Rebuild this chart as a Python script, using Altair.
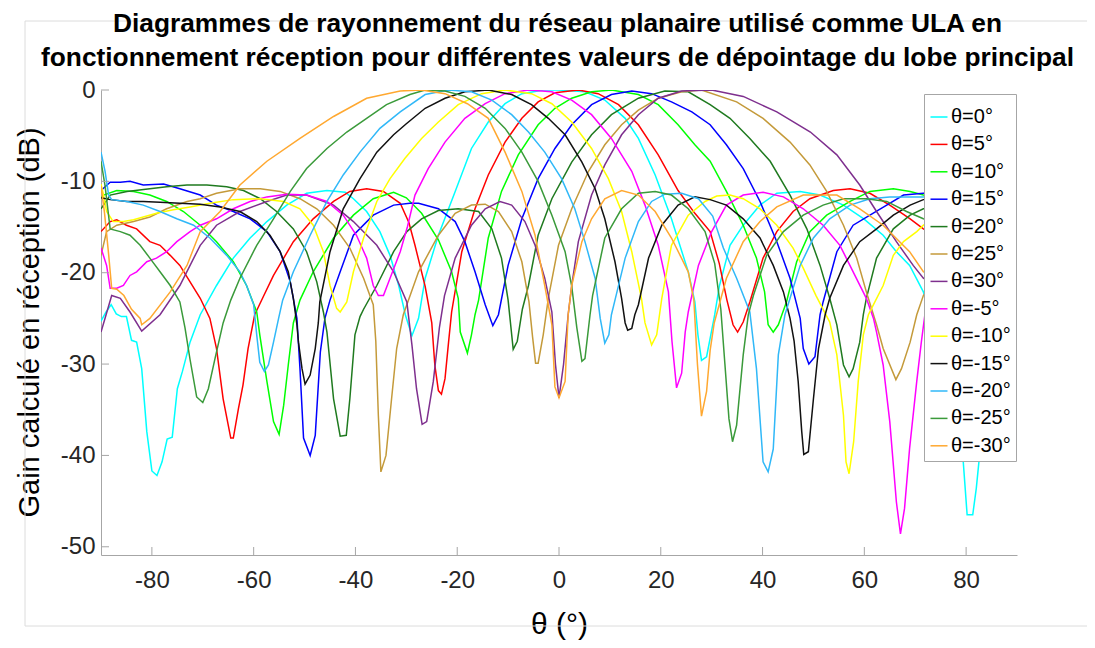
import altair as alt
import pandas as pd

title_lines = [
    "Diagrammes de rayonnement du réseau planaire utilisé comme ULA en",
    "fonctionnement réception pour différentes valeurs de dépointage du lobe principal",
]
x_title = "θ (°)"
y_title = "Gain calculé en réception (dB)"
x_ticks = [-80, -60, -40, -20, 0, 20, 40, 60, 80]
y_ticks = [0, -10, -20, -30, -40, -50]

series_labels = ["θ=0°", "θ=5°", "θ=10°", "θ=15°", "θ=20°", "θ=25°", "θ=30°",
                 "θ=-5°", "θ=-10°", "θ=-15°", "θ=-20°", "θ=-25°", "θ=-30°"]
series_colors = ["#00FFFF", "#FF0000", "#00FF00", "#0000FF", "#1F7A1F", "#C49A3A", "#7E2F8E",
                 "#FF00FF", "#FFFF00", "#111111", "#30B8F8", "#3A9A3A", "#FFA830"]

# (angle in degrees, gain in dB)
p0 = [(-90, -25.3), (-89, -24.3), (-88, -23.5), (-87, -24.5), (-86, -24.8), (-85, -24.8), (-84, -27.4),
      (-83, -27.6), (-82, -30.5), (-81, -37.4), (-80, -41.7), (-79, -42.2), (-78, -40.7), (-77, -38.2),
      (-76, -38.0), (-75, -32.7), (-74, -30.8), (-72.5, -27.6), (-70.5, -24.6), (-67.3, -21.4), (-64, -18.4),
      (-60.7, -16.2), (-57.4, -14.4), (-53.5, -12.6), (-49.6, -11.3), (-45.6, -11.0), (-42, -11.2),
      (-40.4, -11.9), (-37.8, -13.3), (-35.2, -15.5), (-33.2, -18.1), (-31.5, -21.4), (-30.2, -24.6),
      (-28.9, -26.9), (-27.6, -25.0), (-26.3, -20.6), (-23.7, -15.9), (-20.4, -11.1), (-17.2, -6.4),
      (-13.9, -3.5), (-10.6, -1.5), (-7.3, -0.4), (-3, 0), (0, 0), (5.1, -0.2), (9, -1.1), (13, -3.1),
      (15.6, -5.3), (18.9, -9.3), (22.1, -14.1), (25.4, -19.9), (26.7, -23.2), (27.3, -26.8), (28, -29.6),
      (29, -29.2), (30.6, -24.6), (31.5, -21.5), (33.6, -17.0), (36.2, -14.8), (39.5, -12.6), (42.8, -11.3),
      (47.4, -11.1), (51.3, -11.5), (55.9, -12.6), (59.9, -14.1), (63.7, -15.9), (66.3, -17.7), (68.9, -19.2),
      (71.6, -22.1), (75, -28.0), (77.5, -34.0), (79.4, -40.4), (80.2, -46.5), (81.3, -46.5), (82, -43.6),
      (83, -38.0), (85, -33.5), (87.5, -31.0), (90, -30.3)]
p5 = [(-90, -15.5), (-88.2, -14.4), (-86.9, -14.2), (-85, -14.8), (-83, -15.2), (-80.4, -16.6), (-78.4, -17.0),
      (-76.4, -18.1), (-74.5, -19.2), (-72.5, -21.0), (-70.5, -22.8), (-68.6, -25.0), (-67.3, -28.3),
      (-66, -33.8), (-64.5, -38.1), (-64, -38.1), (-63, -34.9), (-62.1, -32.3), (-61.1, -28.3), (-59.8, -24.6),
      (-58, -22.5), (-56.1, -20.3), (-52.2, -16.6), (-48.3, -14.1), (-44.3, -12.2), (-41.1, -11.1),
      (-37.8, -10.8), (-34.5, -11.1), (-31.2, -12.4), (-29.5, -14.5), (-28.3, -17.0), (-26.3, -21.5),
      (-25, -25.5), (-24.4, -30.1), (-23.7, -32.9), (-23.1, -33.3), (-22.4, -31.6), (-21.7, -27.6),
      (-21.1, -24.3), (-19.1, -17.7), (-16.5, -13.0), (-13.9, -9.3), (-10.6, -5.7), (-7.3, -3.1), (-4.1, -1.3),
      (-0.8, -0.3), (3.8, 0), (7.7, -0.4), (11.7, -1.6), (15.6, -3.8), (19.5, -7.1), (23.4, -11.0),
      (26.7, -13.5), (29.7, -15.5), (31.5, -19.0), (33, -23.0), (34.2, -25.7), (35.1, -26.5), (36.2, -25.4),
      (37.5, -23.2), (40.1, -18.4), (42.8, -15.5), (46, -13.3), (49.3, -11.9), (53.9, -11.0), (57.2, -10.8),
      (61.1, -11.3), (65, -12.6), (69, -14.1), (71.6, -15.2), (80, -17.5), (90, -19.0)]
p10 = [(-90, -11.8), (-89.5, -11.5), (-86.9, -11.0), (-83.6, -11.1), (-80.4, -11.5), (-77.1, -12.2),
       (-73.8, -13.3), (-70.5, -14.8), (-67.3, -16.6), (-64, -18.8), (-61.4, -21.4), (-59.4, -24.3),
       (-58.8, -26.8), (-57.4, -31.9), (-56.1, -36.3), (-55, -37.7), (-54.1, -34.5), (-53.2, -30.1),
       (-52.2, -25.5), (-50.9, -23.0), (-48.3, -19.9), (-44.3, -16.2), (-40.4, -13.7), (-36.5, -11.9),
       (-32.5, -11.2), (-30, -11.8), (-27, -13.5), (-23.7, -16.4), (-21.1, -19.9), (-19.8, -22.8),
       (-19.4, -26.5), (-18, -28.8), (-17.2, -26.8), (-16.5, -24.6), (-15.8, -23.0), (-13.9, -16.2),
       (-11.3, -11.1), (-8, -7.1), (-4.1, -3.8), (-0.8, -2.0), (2.5, -0.9), (6.4, -0.2), (10.3, 0),
       (15.6, -0.5), (19.5, -1.6), (23.4, -3.8), (26.7, -6.0), (29.7, -7.8), (32.9, -11.1), (36.2, -14.8),
       (38.8, -18.4), (40.4, -22.1), (41.1, -25.7), (42.1, -26.5), (43.1, -25.7), (43.8, -24.6),
       (44.7, -23.2), (46.7, -18.8), (49.3, -15.5), (52.6, -13.7), (57.2, -12.2), (61.1, -11.1),
       (65.7, -10.8), (69, -11.1), (71.6, -11.5), (80, -12.2), (90, -13.0)]
p15 = [(-90, -11.0), (-88.2, -10.1), (-86.2, -10.1), (-84.3, -10.0), (-81.7, -10.4), (-77.7, -10.3),
       (-74.5, -10.8), (-70.5, -11.5), (-67.3, -12.6), (-64, -13.3), (-60.7, -14.1), (-57.4, -15.5),
       (-54.8, -17.7), (-52.8, -21.0), (-51.5, -25.0), (-50.9, -30.5), (-50.2, -38.1), (-48.9, -40.0),
       (-47.9, -37.8), (-46.9, -28.7), (-46, -25.0), (-45, -23.0), (-43, -19.9), (-40.4, -15.9),
       (-36.5, -13.7), (-32.5, -12.6), (-29.3, -12.4), (-27.6, -12.4), (-23.7, -13.0), (-20.4, -14.4),
       (-18.5, -16.6), (-16.5, -19.9), (-14.5, -23.5), (-13, -25.8), (-11.9, -24.6), (-10, -19.2),
       (-7.3, -14.1), (-4.1, -9.7), (-0.8, -6.4), (2.5, -3.8), (6.4, -1.6), (10.3, -0.5), (14.3, -0.1),
       (18.2, -0.4), (22.1, -1.3), (26.1, -2.4), (29.7, -3.8), (32.9, -6.0), (36.2, -8.6), (39.5, -12.2),
       (42.8, -16.6), (45.4, -20.6), (47.4, -25.0), (48, -28.3), (49.1, -30.0), (50.3, -29.2), (51.3, -24.6),
       (51.9, -23.2), (54.6, -17.7), (57.8, -14.8), (61.1, -13.7), (64.4, -12.6), (67.7, -11.5),
       (71.6, -11.3), (80, -11.0), (90, -10.9)]
p20 = [(-90, -13.0), (-88.2, -11.5), (-84.9, -11.1), (-80.4, -10.8), (-77.1, -10.6), (-73.1, -10.4),
       (-69.2, -10.4), (-65.3, -10.6), (-62, -11.0), (-58.7, -11.9), (-55.5, -13.3), (-52.2, -15.2),
       (-49.6, -17.7), (-47.6, -21.0), (-46.3, -24.3), (-45.6, -26.5), (-44.3, -33.8), (-43, -37.9),
       (-41.8, -37.8), (-41.1, -33.8), (-40.1, -26.8), (-39.1, -24.8), (-38.4, -24.0), (-35.8, -21.4),
       (-32.5, -17.7), (-29.9, -15.5), (-27, -14.1), (-23.7, -13.2), (-19.8, -13.0), (-15.8, -13.3),
       (-13.2, -15.2), (-11.3, -18.4), (-10, -23.0), (-9, -28.4), (-8.2, -27.5), (-7.2, -24.0), (-6, -21.4),
       (-4.1, -15.9), (-1.4, -11.9), (2.5, -7.9), (6.4, -4.9), (10.3, -2.7), (15.6, -0.9), (20.8, -0.1),
       (25.4, -0.2), (29.7, -1.6), (33.6, -3.1), (37.5, -5.3), (41.5, -7.8), (45.4, -11.5), (48.7, -15.2),
       (51.3, -19.2), (53.2, -22.8), (54.6, -25.7), (55.9, -30.1), (57, -31.4), (57.8, -30.5), (59.1, -27.6),
       (59.8, -24.6), (60.4, -22.8), (62.4, -18.4), (65.7, -15.2), (69, -13.7), (71.6, -13.0), (80, -12.5),
       (90, -12.6)]
p25 = [(-90, -18.1), (-88.9, -15.5), (-86.9, -14.8), (-83.6, -14.4), (-80.4, -13.9), (-77.1, -13.0),
       (-73.1, -12.2), (-70.5, -11.9), (-67.3, -11.3), (-62.7, -10.8), (-58.7, -10.8), (-54.8, -11.1),
       (-50.9, -11.9), (-47.6, -13.0), (-44.3, -14.8), (-41.1, -17.3), (-38.4, -20.6), (-36.5, -23.5),
       (-36, -27.5), (-35.5, -35.6), (-35, -41.8), (-34, -40.0), (-32.9, -33.8), (-31.9, -28.3),
       (-30.6, -24.6), (-27.6, -19.9), (-23.7, -15.9), (-20.4, -13.5), (-17.2, -12.6), (-14.5, -12.5),
       (-11.9, -13.3), (-9.3, -15.5), (-7.3, -18.8), (-5.9, -23.2), (-5.2, -27.0), (-4.6, -29.9),
       (-4.1, -29.9), (-3.1, -26.8), (-2.1, -22.8), (-0.1, -17.0), (2.5, -13.0), (5.8, -8.9), (9, -6.0),
       (12.3, -3.8), (15.6, -2.2), (19.5, -0.9), (24.1, -0.2), (28, 0), (34.9, -1.3), (40.1, -3.1),
       (45.4, -5.7), (49.3, -8.2), (52.6, -11.1), (55.9, -14.8), (58.5, -18.4), (60.4, -22.1), (62.4, -25.7),
       (63.7, -28.3), (66.2, -31.7), (67.3, -30.5), (69, -27.6), (70.3, -24.6), (71.6, -22.5), (80, -16.5),
       (90, -14.9)]
p30 = [(-90, -26.5), (-89, -24.6), (-87.9, -22.5), (-86.2, -22.8), (-84.3, -24.3), (-82, -26.4),
       (-78.4, -24.6), (-74.5, -21.4), (-70.5, -17.0), (-67.3, -14.8), (-62.7, -13.3), (-57.4, -12.2),
       (-53.5, -11.5), (-49.6, -11.5), (-44.3, -12.6), (-40.4, -14.4), (-35.8, -17.0), (-32.5, -19.9),
       (-29.9, -23.2), (-28.9, -27.9), (-28, -32.7), (-26.9, -36.6), (-26, -36.3), (-24.7, -31.9),
       (-23.5, -26.0), (-22.5, -22.5), (-20.4, -18.4), (-17.2, -14.8), (-14.5, -13.0), (-11.6, -12.2),
       (-9.3, -12.6), (-6.7, -14.4), (-4.7, -17.0), (-2.8, -20.6), (-1.4, -24.3), (-0.7, -30.0), (0, -33.7),
       (0.9, -30.0), (1.8, -24.6), (2.5, -21.4), (3.8, -16.6), (6.4, -11.5), (9, -8.2), (12.3, -4.9),
       (15.6, -2.7), (19.5, -0.9), (24.1, -0.1), (30, 0), (36.2, -0.7), (42.8, -2.4), (49.4, -4.6),
       (54.6, -7.1), (59.1, -10.4), (62.4, -13.3), (66.3, -16.6), (69.6, -19.2), (71.6, -20.6), (80, -23.5),
       (90, -24.5)]
m5 = [(-90, -17.3), (-88.9, -19.2), (-88.2, -21.7), (-86.9, -21.7), (-85.6, -21.4), (-84.3, -20.3),
      (-83, -19.9), (-81, -18.8), (-79.1, -18.4), (-77.1, -17.7), (-75.1, -16.6), (-72.5, -15.5),
      (-70.5, -14.8), (-67.3, -14.1), (-64, -13.0), (-60.7, -12.2), (-57.4, -11.7), (-53.5, -11.4),
      (-49.6, -11.5), (-45.6, -12.2), (-42.4, -13.7), (-39.8, -15.9), (-37.8, -18.4), (-36.5, -21.4),
      (-35.5, -22.5), (-34.5, -22.5), (-33.2, -20.6), (-31.2, -17.7), (-29.8, -15.0), (-28.3, -11.5),
      (-25.7, -8.6), (-22.4, -5.7), (-18.5, -3.1), (-14.5, -1.5), (-10.6, -0.4), (-6, 0), (-1.4, -0.2),
      (2.5, -1.1), (6.4, -2.7), (10.3, -5.3), (14.3, -8.9), (16.9, -12.6), (19.5, -17.0), (21.5, -22.1),
      (22.2, -27.5), (23.1, -32.6), (24.1, -31.0), (24.8, -26.5), (25.4, -24.3), (27.4, -19.2), (30, -15.5),
      (32.9, -12.6), (36.2, -11.5), (40.1, -11.2), (44.1, -11.7), (48, -13.0), (51.9, -14.8), (55.2, -17.0),
      (57.8, -19.9), (60.4, -22.8), (61.8, -25.0), (62.4, -26.5), (63.7, -30.1), (65, -36.3), (66.3, -45.1),
      (67.1, -48.6), (67.9, -45.8), (68.9, -39.2), (70.3, -31.9), (71.2, -27.6), (71.9, -24.6), (76, -18.5),
      (82, -16.0), (90, -16.0)]
m10 = [(-90, -10.3), (-89.5, -11.5), (-88.9, -13.3), (-87.6, -14.4), (-85.6, -14.4), (-83.6, -14.2),
       (-81.7, -13.9), (-79.1, -13.5), (-75.8, -13.1), (-72.5, -12.8), (-68.6, -12.4), (-64, -12.0),
       (-58.7, -11.9), (-54.1, -12.2), (-50.9, -13.0), (-48.3, -14.8), (-46.3, -17.7), (-45, -21.4),
       (-43.7, -23.9), (-43, -24.3), (-41.7, -23.2), (-40.4, -19.9), (-38.4, -16.2), (-35.8, -12.2),
       (-33.2, -9.7), (-30.3, -7.5), (-27, -5.3), (-23.7, -3.5), (-19.8, -1.6), (-15.2, -0.4), (-10.6, 0),
       (-5.4, -0.4), (-1.4, -1.5), (2.5, -3.5), (6.4, -6.4), (9.7, -9.7), (12.3, -13.3), (14.3, -17.7),
       (16.2, -22.8), (16.9, -25.5), (18.2, -27.9), (19.2, -26.8), (20.2, -22.8), (22.1, -17.0), (25.4, -13.7),
       (28.7, -12.2), (31, -11.6), (33.6, -11.5), (36.2, -11.9), (39.5, -13.0), (42.8, -14.8), (46, -17.3),
       (48, -19.5), (50.5, -22.5), (53.2, -25.4), (54.6, -29.0), (55.9, -35.6), (56.4, -40.7), (57, -42.0),
       (57.9, -38.5), (58.8, -31.9), (59.8, -26.8), (60.8, -24.6), (61.8, -23.5), (63.7, -21.4), (65.7, -18.1),
       (67.7, -16.6), (70.3, -15.5), (71.6, -14.8), (80, -12.8), (90, -12.0)]
m15 = [(-90, -11.8), (-88.2, -12.0), (-84.9, -12.2), (-81.7, -12.2), (-78.4, -12.3), (-74.5, -12.4),
       (-70.5, -12.5), (-66.6, -12.8), (-62.7, -13.3), (-59.4, -14.4), (-56.8, -15.9), (-54.8, -17.7),
       (-53.2, -19.9), (-52.2, -22.8), (-51.5, -25.7), (-51.2, -27.6), (-50.5, -30.5), (-49.9, -32.2),
       (-48.9, -31.2), (-47.9, -28.3), (-47.3, -25.5), (-47, -23.2), (-45, -17.7), (-42.4, -13.0),
       (-39.1, -9.7), (-35.8, -6.8), (-32.5, -4.9), (-30, -3.7), (-26.3, -2.0), (-22.4, -0.9), (-18.5, -0.2),
       (-13.9, 0), (-9.3, -0.5), (-5.4, -1.6), (-2.1, -3.1), (1.2, -4.9), (4.5, -7.9), (7.1, -10.8),
       (9, -14.1), (11, -18.8), (12.3, -22.8), (13, -25.5), (13.5, -26.3), (14.3, -26.1), (14.9, -24.6),
       (15.6, -23.5), (17.6, -18.4), (20.2, -14.8), (23.4, -12.6), (26.7, -11.7), (29.7, -12.0),
       (32.9, -12.6), (36.2, -14.1), (39.5, -16.2), (42.1, -19.2), (44.1, -22.1), (45.4, -25.0),
       (46.2, -27.5), (47, -31.9), (47.7, -37.4), (48.1, -39.9), (49, -39.6), (50, -33.8), (51, -28.3),
       (52.3, -24.6), (53.2, -22.8), (55.9, -19.2), (59.1, -16.6), (62.4, -15.2), (65.7, -13.7), (69, -12.6),
       (71.6, -12.0), (80, -11.5), (90, -11.3)]
m20 = [(-90, -6.8), (-89.2, -8.9), (-88.5, -11.5), (-87.9, -12.0), (-84.9, -12.2), (-81.7, -12.6),
       (-78.4, -13.3), (-75.1, -14.1), (-71.8, -14.8), (-68.6, -16.2), (-65.3, -18.1), (-62.7, -19.9),
       (-61.4, -21.4), (-60, -23.5), (-59.4, -26.8), (-58.8, -29.8), (-57.9, -30.8), (-57.1, -30.1),
       (-56.1, -27.6), (-55.1, -25.0), (-54.3, -23.0), (-52.2, -19.9), (-48.9, -15.9), (-45.6, -12.2),
       (-42.4, -9.3), (-39.1, -6.8), (-35.2, -4.2), (-31.2, -2.4), (-26.3, -0.5), (-21.7, 0), (-17.2, -0.2),
       (-13.2, -1.1), (-9.3, -2.7), (-6, -4.6), (-2.8, -6.8), (0.5, -9.7), (3.1, -13.0), (5.1, -16.6),
       (7.1, -20.6), (8.1, -25.0), (9, -27.7), (9.8, -26.8), (10.3, -24.6), (11, -23.0), (13, -18.4),
       (15.6, -14.4), (18.2, -12.2), (20.8, -11.4), (24.1, -11.3), (27.4, -11.9), (30.2, -13.8),
       (32.3, -17.3), (34.9, -20.6), (37.5, -24.3), (38.8, -30.5), (40.1, -40.7), (41.1, -41.8),
       (42.1, -39.3), (43.1, -29.0), (44.4, -24.6), (45.4, -22.8), (47.4, -19.2), (50, -16.2), (53.2, -14.1),
       (57.2, -12.6), (61.1, -11.9), (65, -11.7), (69, -11.7), (71.6, -11.7), (80, -11.6), (90, -11.6)]
m25 = [(-90, -7.8), (-89.2, -10.5), (-88.2, -15.2), (-86.2, -15.5), (-84.3, -15.9), (-82.3, -17.0),
       (-80.4, -18.4), (-78.4, -19.9), (-76.4, -21.4), (-74.5, -23.2), (-73.5, -26.0), (-72.5, -29.5),
       (-71.2, -33.6), (-70, -34.2), (-68.9, -32.7), (-67.6, -29.4), (-66, -25.5), (-64.5, -23.0),
       (-62.7, -20.6), (-59.4, -17.0), (-56.1, -14.1), (-52.8, -11.1), (-49.6, -8.6), (-45.6, -6.4),
       (-41.7, -4.6), (-37.8, -3.1), (-33.9, -1.6), (-29.3, -0.5), (-26.3, 0), (-22.4, -0.1), (-18.5, -0.7),
       (-14.5, -2.0), (-10.6, -4.2), (-7.3, -6.8), (-4.1, -10.0), (-1.4, -13.7), (1.2, -17.7), (2.5, -21.5),
       (3.5, -26.0), (4.5, -29.7), (5.1, -29.4), (6.1, -24.6), (6.6, -22.5), (9, -16.2), (12.3, -13.0),
       (15.6, -11.3), (18.9, -11.1), (22.1, -11.5), (25.4, -13.0), (28.7, -15.5), (30.6, -19.0),
       (31.8, -24.0), (32.6, -30.0), (33.4, -36.0), (34.1, -38.5), (34.9, -36.7), (36.2, -29.0),
       (37.2, -24.6), (38.2, -22.5), (40.8, -18.1), (44.1, -15.5), (48, -13.7), (51.9, -12.6), (55.9, -11.9),
       (60.4, -11.9), (64.4, -12.2), (68.3, -13.3), (71.6, -14.1), (80, -15.5), (90, -16.7)]
m30 = [(-90, -10.5), (-89.3, -13.5), (-88.5, -18.0), (-87.9, -21.7), (-86.9, -21.8), (-85.5, -22.5),
       (-84, -24.0), (-82.3, -25.0), (-82, -25.7), (-80.4, -25.0), (-76.4, -22.1), (-73.1, -19.2),
       (-70.5, -15.5), (-66.6, -13.3), (-62.7, -10.4), (-57.4, -7.8), (-50.9, -5.3), (-44.3, -2.9),
       (-37.8, -0.9), (-31.2, -0.1), (-27, 0), (-22.4, -0.4), (-18, -1.5), (-13.9, -3.1), (-10.6, -6.8),
       (-7.3, -11.1), (-4.7, -15.9), (-2.8, -21.4), (-1.4, -25.7), (-0.8, -32.5), (0, -33.7), (1.2, -31.9),
       (1.8, -24.6), (2.5, -21.4), (4.5, -16.6), (6.4, -14.1), (9, -11.9), (12.3, -11.0), (15.6, -11.5),
       (18.9, -13.3), (22.1, -16.2), (25.4, -19.9), (26.5, -23.0), (27.2, -30.0), (28, -35.7), (29, -33.0),
       (29.7, -28.5), (30.5, -25.5), (32.9, -20.6), (36.2, -16.6), (39.5, -14.4), (42.8, -12.8), (48, -11.5),
       (54.6, -11.5), (59.1, -13.0), (63.7, -14.8), (68.9, -17.7), (71.6, -19.9), (80, -22.5), (90, -24.0)]

curves = [p0, p5, p10, p15, p20, p25, p30, m5, m10, m15, m20, m25, m30]

rows = []
for label, pts in zip(series_labels, curves):
    for i, (t, g) in enumerate(pts):
        rows.append({"serie": label, "theta": t, "gain": g, "i": i})
df = pd.DataFrame(rows)

W, H = 916, 465
AXIS_GRAY = "#A6A6A6"
LABEL_COLOR = "#262626"
FONT = "Liberation Sans"

xs = alt.Scale(domain=[-90, 90], nice=False, zero=False)
ys = alt.Scale(domain=[-50.9, 0], nice=False, zero=False)

x_axis = alt.Axis(
    values=x_ticks, title=x_title, labelExpr="datum.value + ''", ticks=False, grid=False,
    labelPadding=13, labelFontSize=24, labelFont=FONT, labelColor=LABEL_COLOR,
    domainColor=AXIS_GRAY, titleFont=FONT, titleFontSize=30, titleFontWeight="normal",
    titleColor="#000000", titleX=458, titleY=78, titleBaseline="alphabetic", titleAlign="center")
y_axis = alt.Axis(
    values=y_ticks, title=y_title, labelExpr="datum.value + ''", ticks=False, grid=False,
    labelPadding=6, labelFontSize=24, labelFont=FONT, labelColor=LABEL_COLOR,
    domainColor=AXIS_GRAY, titleFont=FONT, titleFontSize=29, titleFontWeight="normal",
    titleColor="#000000", titleAngle=270, titleX=-72, titleY=232, titleAlign="center",
    titleBaseline="middle")

lines = alt.Chart(df).mark_line(strokeWidth=1.5, clip=True).encode(
    x=alt.X("theta:Q", scale=xs, axis=x_axis),
    y=alt.Y("gain:Q", scale=ys, axis=y_axis),
    color=alt.Color("serie:N", scale=alt.Scale(domain=series_labels, range=series_colors),
                    legend=alt.Legend(
                        title=" ", titleFontSize=4, titlePadding=4,
                        orient="none", legendX=823, legendY=4, symbolType="stroke",
                        symbolStrokeWidth=1.5, symbolSize=289, labelFontSize=20, labelFont=FONT,
                        labelColor="#000000", fillColor="white", strokeColor=AXIS_GRAY, padding=5,
                        rowPadding=7.4, labelOffset=2, labelLimit=300)),
    order=alt.Order("i:Q"),
)

# inward tick marks at the axis tick values
xt = alt.Chart(pd.DataFrame({"theta": x_ticks})).mark_rule(color=AXIS_GRAY, strokeWidth=1).encode(
    x=alt.X("theta:Q", scale=xs, axis=x_axis), y=alt.value(H), y2=alt.value(H - 8)
)
yt = alt.Chart(pd.DataFrame({"gain": y_ticks})).mark_rule(color=AXIS_GRAY, strokeWidth=1).encode(
    y=alt.Y("gain:Q", scale=ys, axis=y_axis), x=alt.value(0), x2=alt.value(8)
)

frame = alt.Chart(pd.DataFrame({"k": [0]})).mark_rect(
    fillOpacity=0, stroke="#DCDCDC", strokeWidth=1
).encode(
    x=alt.value(25 - 101), x2=alt.value(1092 - 101),
    y=alt.value(21 - 90), y2=alt.value(626 - 90),
)

TITLE_FONT = "Liberation Sans"
title_df = pd.DataFrame({"line": title_lines, "k": [0, 1]})
title1 = alt.Chart(title_df.iloc[[0]]).mark_text(
    font=TITLE_FONT, fontWeight="bold", fontSize=26.3, color="#000000", align="center", baseline="alphabetic"
).encode(text="line:N", x=alt.value(W / 2 - 1.5), y=alt.value(32 - 90))
title2 = alt.Chart(title_df.iloc[[1]]).mark_text(
    font=TITLE_FONT, fontWeight="bold", fontSize=26.3, color="#000000", align="center", baseline="alphabetic"
).encode(text="line:N", x=alt.value(W / 2 - 1.5), y=alt.value(65.5 - 90))

chart = alt.layer(frame, title1, title2, lines, yt, xt).properties(
    width=W, height=H,
    autosize=alt.AutoSizeParams(type="none"),
    padding={"left": 93, "top": 82, "right": 70, "bottom": 85},
).configure_view(stroke=None)

chart.save("out.html", embed_options={"renderer": "svg", "actions": False})
